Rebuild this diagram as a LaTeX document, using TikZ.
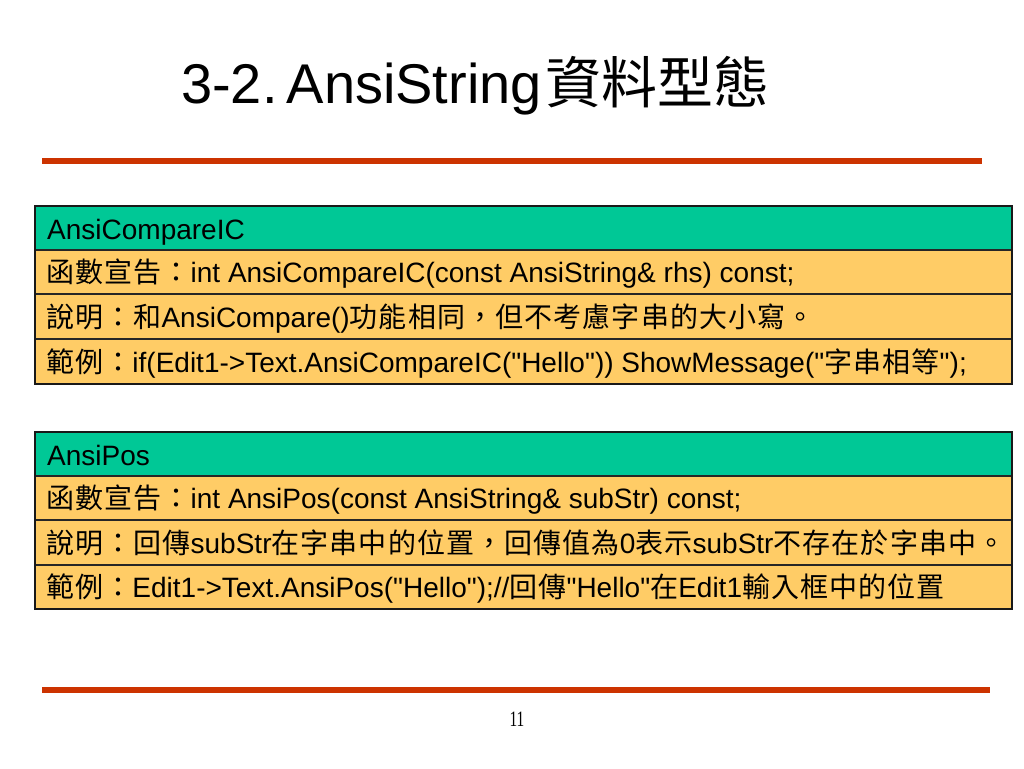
\documentclass[tikz,border=0pt]{standalone}
\usepackage{fontspec}
\newfontfamily\arialfont{Liberation Sans}
\newfontfamily\cjkfont{Noto Sans CJK TC}[LetterSpace=4]
\newfontfamily\cjktitle{Noto Sans CJK TC}
\newfontfamily\numfont{Liberation Serif}
\newcommand{\cj}[1]{{\cjkfont #1}}
\definecolor{tealc}{RGB}{0,200,150}
\definecolor{orangec}{RGB}{255,204,102}
\definecolor{redline}{RGB}{204,51,0}
\begin{document}
\begin{tikzpicture}[x=1pt,y=-1pt,
  hdrcell/.style={fill=tealc},
  rowcell/.style={fill=orangec},
  cellline/.style={draw=black!85, line width=1.2pt},
  outerline/.style={draw=black!90, line width=2.4pt},
  celltext/.style={anchor=base west, inner sep=0pt, font=\arialfont\fontsize{28}{34}\selectfont},
  rule/.style={draw=redline, line width=6pt}]
\useasboundingbox (0,0) rectangle (1024,768);
\fill[white] (0,0) rectangle (1024,768);

% title
\node[anchor=base west, inner sep=0pt, font=\arialfont\fontsize{56}{66}\selectfont] (title) at (181,103)
  {3-2.\hspace{9pt}AnsiString\hspace{4pt}{\cjktitle 資料型態}};

% rules
\draw[rule] (42,161) -- (982,161);
\draw[rule] (42,690) -- (990,690);

% table 1
\fill[hdrcell] (35,206) rectangle (1012,250);
\fill[rowcell] (35,250) rectangle (1012,384);
\draw[cellline] (35,250) -- (1012,250);
\draw[cellline] (35,294) -- (1012,294);
\draw[cellline] (35,339) -- (1012,339);
\draw[outerline] (35,206) rectangle (1012,384);
\node[celltext] (t1h) at (47,239) {AnsiCompareIC};
\node[celltext] (t1a) at (46,282) {\cj{函數宣告：}int AnsiCompareIC(const AnsiString\& rhs) const;};
\node[celltext] (t1b) at (46,327) {\cj{說明：和}AnsiCompare()\cj{功能相同，但不考慮字串的大小寫。}};
\node[celltext] (t1c) at (46,372) {\cj{範例：}if(Edit1->Text.AnsiCompareIC("Hello")) ShowMessage("\cj{字串相等}");};

% table 2
\fill[hdrcell] (35,432) rectangle (1012,476);
\fill[rowcell] (35,476) rectangle (1012,609);
\draw[cellline] (35,476) -- (1012,476);
\draw[cellline] (35,520) -- (1012,520);
\draw[cellline] (35,565) -- (1012,565);
\draw[outerline] (35,432) rectangle (1012,609);
\node[celltext] (t2h) at (47,465) {AnsiPos};
\node[celltext] (t2a) at (46,508) {\cj{函數宣告：}int AnsiPos(const AnsiString\& subStr) const;};
\node[celltext] (t2b) at (46,553) {\cj{說明：回傳}subStr\cj{在字串中的位置，回傳值為}0\cj{表示}subStr\cj{不存在於字串中。}};
\node[celltext] (t2c) at (46,597) {\cj{範例：}Edit1->Text.AnsiPos("Hello");//\cj{回傳}"Hello"\cj{在}Edit1\cj{輸入框中的位置}};

% page number
\node[anchor=base, inner sep=0pt, xscale=0.7, font=\numfont\fontsize{22}{26}\selectfont] (pg) at (517,726) {11};
\end{tikzpicture}
\end{document}
